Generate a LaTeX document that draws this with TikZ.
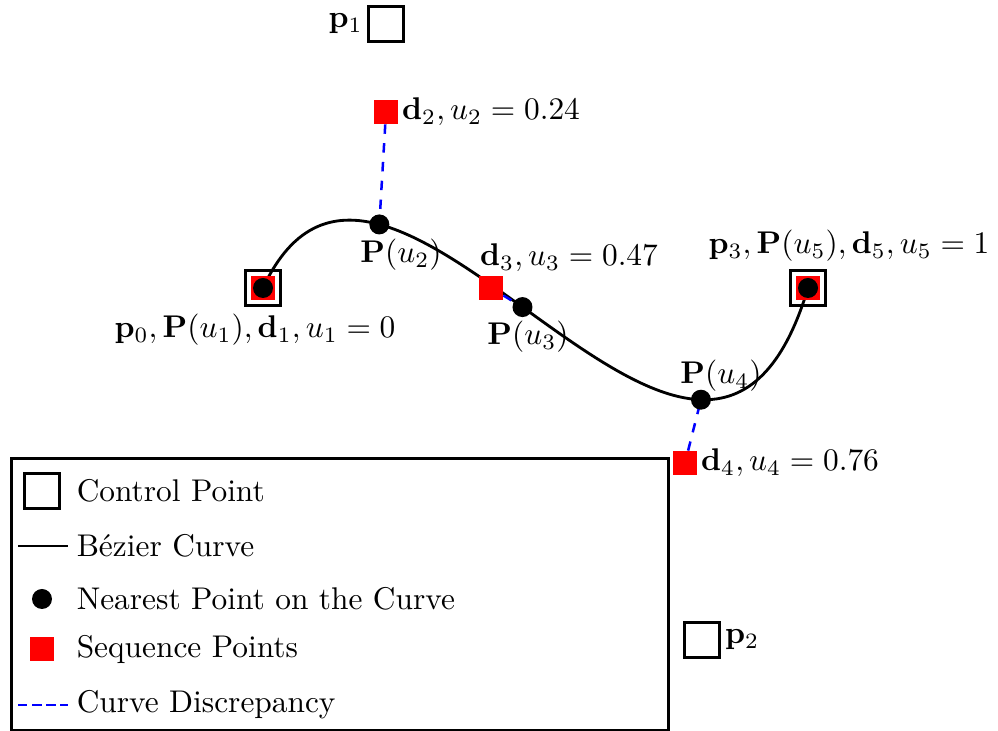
\documentclass[tikz,border=0pt]{standalone}
\begin{document}
\begin{tikzpicture}[x=0.0112cm, y=-0.0112cm,
    ctrl/.style={draw, line width=1pt, minimum size=0.40cm, inner sep=0pt},
    seqpt/.style={fill=red, minimum size=0.263cm, inner sep=0pt},
    nearpt/.style={circle, fill=black, minimum size=0.224cm, inner sep=0pt},
    discr/.style={blue, dashed, thick},
    bez/.style={line width=0.9pt}]
    \useasboundingbox (0,0) rectangle (998,731);
    % control points
    \coordinate (c0) at (263,288);
    \coordinate (c1) at (386,24);
    \coordinate (c2) at (702,640);
    \coordinate (c3) at (808,288);
    \node[ctrl] (p0) at (c0) {};
    \node[ctrl] (p1) at (c1) {};
    \node[ctrl] (p2) at (c2) {};
    \node[ctrl] (p3) at (c3) {};
    \node[anchor=east, inner sep=1pt] (p1lbl) at (p1.west) {$\mathbf{p}_1$};
    \node[anchor=west, inner sep=1pt] (p2lbl) at (p2.east) {$\mathbf{p}_2$};

    % Bezier curve
    \draw[bez] (c0) .. controls (c1) and (c2) .. (c3)
        coordinate[pos=0.24] (u2)
        coordinate[pos=0.47] (u3)
        coordinate[pos=0.76] (u4);

    % sequence points
    \node[seqpt] (d1) at (c0) {};
    \node[seqpt] (d2) at (386,112) {};
    \node[seqpt] (d3) at (491,288) {};
    \node[seqpt] (d4) at (685,463) {};
    \node[seqpt] (d5) at (c3) {};

    % curve discrepancy
    \draw[discr] (d2) -- (u2);
    \draw[discr] (d3) -- (u3);
    \draw[discr] (d4) -- (u4);

    % nearest points
    \node[nearpt] (P1) at (c0) {};
    \node[nearpt] (P2) at (u2) {};
    \node[nearpt] (P3) at (u3) {};
    \node[nearpt] (P4) at (u4) {};
    \node[nearpt] (P5) at (c3) {};

    % labels
    \node (lbl0) at (255,330) {$\mathbf{p}_0, \mathbf{P}(u_1), \mathbf{d}_1, u_1 = 0$};
    \node (lbl2) at (401,255) {$\mathbf{P}(u_2)$};
    \node (lbl3) at (528,337) {$\mathbf{P}(u_3)$};
    \node (lbl4) at (721,376) {$\mathbf{P}(u_4)$};
    \node (lbl5) at (849,246) {$\mathbf{p}_3, \mathbf{P}(u_5), \mathbf{d}_5, u_5 = 1$};
    \node[anchor=west, inner sep=1pt] (dl2) at (d2.east) {$\mathbf{d}_2, u_2 = 0.24$};
    \node (dl3) at (569,258) {$\mathbf{d}_3, u_3 = 0.47$};
    \node[anchor=west, inner sep=1pt] (dl4) at (d4.east) {$\mathbf{d}_4, u_4 = 0.76$};

    % legend
    \node[draw, line width=0.8pt, minimum width=657*0.0112cm, minimum height=272*0.0112cm,
        anchor=north west] (leg) at (10,457) {};
    \node[ctrl] (legctrl) at (42,491) {};
    \node[anchor=west, inner sep=1pt] (legt1) at (73,491) {Control Point};
    \coordinate (legb1) at (18,546);
    \coordinate (legb2) at (68,546);
    \draw[bez] (legb1) -- (legb2);
    \node[anchor=west, inner sep=1pt] (legt2) at (73,546) {B\'ezier Curve};
    \node[nearpt] (legnear) at (42,599) {};
    \node[anchor=west, inner sep=1pt] (legt3) at (73,599) {Nearest Point on the Curve};
    \node[seqpt] (legseq) at (42,649) {};
    \node[anchor=west, inner sep=1pt] (legt4) at (73,649) {Sequence Points};
    \coordinate (legd1) at (18,705);
    \coordinate (legd2) at (68,705);
    \draw[blue, dashed, thick, dash pattern=on 3pt off 1.5pt] (legd1) -- (legd2);
    \node[anchor=west, inner sep=1pt] (legt5) at (73,705) {Curve Discrepancy};
\end{tikzpicture}
\end{document}
